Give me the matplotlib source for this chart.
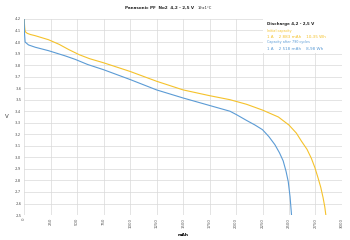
import numpy as np
import matplotlib
matplotlib.use("Agg")
import matplotlib.pyplot as plt
from matplotlib.ticker import FuncFormatter

# Krzywe rozładowania
init_mah = [0, 5, 10, 30, 60, 104, 230, 330, 420, 520, 620, 750, 1000, 1250, 1500, 1750,
            1943, 2100, 2250, 2400, 2500, 2570, 2618, 2670, 2712, 2745, 2775, 2800,
            2822, 2838, 2848]
init_v = [4.2, 4.13, 4.09, 4.075, 4.065, 4.055, 4.02, 3.98, 3.935, 3.89, 3.855, 3.82,
          3.745, 3.66, 3.585, 3.535, 3.50, 3.46, 3.41, 3.35, 3.28, 3.21, 3.14, 3.07,
          2.99, 2.91, 2.82, 2.74, 2.65, 2.57, 2.50]

aged_mah = [0, 3, 9, 41, 104, 230, 387, 481, 600, 750, 1000, 1250, 1500, 1750, 1943,
            2005, 2100, 2180, 2250, 2310, 2367, 2410, 2445, 2472, 2493, 2510, 2524]
aged_v = [4.2, 4.08, 4.0, 3.975, 3.955, 3.925, 3.88, 3.85, 3.805, 3.76, 3.675, 3.585,
          3.515, 3.45, 3.40, 3.37, 3.32, 3.28, 3.24, 3.18, 3.11, 3.04, 2.97, 2.88,
          2.79, 2.66, 2.50]

x_ticks = list(range(0, 3001, 250))
y_ticks = [round(2.5 + 0.1 * i, 1) for i in range(18)]

YELLOW = "#F5C22B"
BLUE = "#5B9BD5"

fig = plt.figure(figsize=(3.5, 2.4), dpi=100)
ax = fig.add_axes([0.069, 0.104, 0.908, 0.817])

ax.plot(init_mah, init_v, color=YELLOW, lw=0.8)
ax.plot(aged_mah, aged_v, color=BLUE, lw=0.8)

ax.set_xlim(0, 3000)
ax.set_ylim(2.5, 4.2)
ax.set_xticks(x_ticks)
ax.set_yticks(y_ticks)
ax.yaxis.set_major_formatter(FuncFormatter(lambda v, p: f"{v:.1f}".replace(".", ",")))
ax.tick_params(axis="both", length=0, labelsize=2.8, colors="#595959", pad=2)
ax.tick_params(axis="x", labelrotation=90)
ax.grid(True, color="#D9D9D9", lw=0.5)
ax.set_axisbelow(True)
for s in ax.spines.values():
    s.set_visible(False)

ax.set_xlabel("mAh", fontsize=3.2, fontweight="bold", labelpad=4)
fig.text(0.015, 0.508, "V", fontsize=4, color="#404040")

fig.text(0.357, 0.968, "Panasonic PF  No2  4,2 - 2,5 V", fontsize=3.0,
         fontweight="bold", color="#262626", va="center")
fig.text(0.565, 0.968, "19±1°C", fontsize=2.6, color="#262626", va="center")

# Pole z opisem
box_x, box_y = 0.752, 0.778
fig.patches.append(plt.Rectangle((box_x, box_y), 0.225, 0.143, transform=fig.transFigure,
                                 facecolor="white", edgecolor="none", zorder=3))
fig.text(0.762, 0.9, "Discharge 4,2 - 2,5 V", fontsize=2.9, fontweight="bold",
         color="#262626", va="center", zorder=4)
fig.text(0.762, 0.871, "Initial capacity", fontsize=2.4, color=YELLOW, va="center", zorder=4)
fig.text(0.762, 0.847, "1 A    2 883 mAh    10,35 Wh", fontsize=3.0, color=YELLOW,
         va="center", zorder=4)
fig.text(0.762, 0.824, "Capacity after 790 cycles", fontsize=2.4, color=BLUE,
         va="center", zorder=4)
fig.text(0.762, 0.797, "1 A    2 518 mAh    8,98 Wh", fontsize=3.0, color=BLUE,
         va="center", zorder=4)

fig.savefig("out.png", dpi=100)
